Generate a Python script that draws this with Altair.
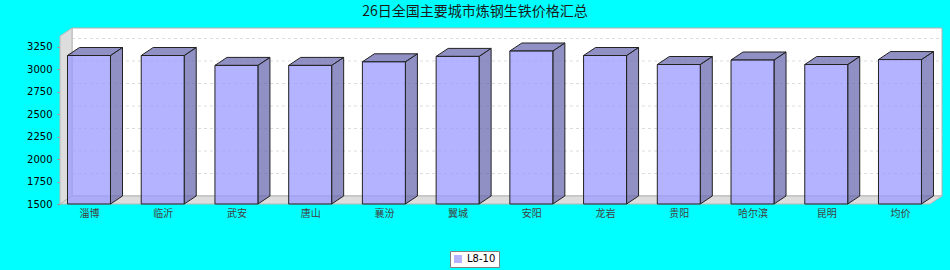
import json
import altair as alt
import pandas as pd

# ---- data ----
cities = ["淄博", "临沂", "武安", "唐山", "襄汾", "翼城", "安阳", "龙岩", "贵阳", "哈尔滨", "昆明", "均价"]
prices = [3150, 3150, 3040, 3040, 3080, 3140, 3200, 3150, 3050, 3100, 3050, 3105]
series_name = "L8-10"
y_ticks = [1500, 1750, 2000, 2250, 2500, 2750, 3000, 3250]
title_text = "26日全国主要城市炼钢生铁价格汇总"

# ---- layout (3D look) ----
X0, X1 = -0.3933, 11.570      # x scale domain (category index units)
Y0, Y1 = 1500.0, 3455.6       # y scale domain
DX, DY = 0.16276, 88.9        # depth offset in data units
HW = 0.2916                   # half bar width

xs = alt.Scale(domain=[X0, X1], nice=False, zero=False)
ys = alt.Scale(domain=[Y0, Y1], nice=False, zero=False)

label_expr = json.dumps(cities, ensure_ascii=False) + "[round(datum.value)]"
xaxis = alt.Axis(values=list(range(len(cities))), labelExpr=label_expr, grid=False,
                 domain=False, ticks=False, labelPadding=4, labelFontSize=10,
                 labelFont="Noto Sans CJK SC", labelColor="#404040",
                 labelOverlap=False, labelFlush=False, title=None)
yaxis = alt.Axis(values=y_ticks, format="d", grid=False, domain=False, tickSize=3,
                 tickColor="#c08080", labelPadding=5, labelFontSize=10,
                 labelFont="DejaVu Sans", labelColor="black", title=None)

front_rows, side_rows, top_rows = [], [], []
for i, (c, v) in enumerate(zip(cities, prices)):
    front_rows.append({"city": c, "x0": i - HW, "x1": i + HW, "y0": Y0, "y1": v, "series": series_name})
    side_rows.append({"city": c, "x": i + HW, "y": v, "y2": Y0})
    side_rows.append({"city": c, "x": i + HW + DX, "y": v + DY, "y2": Y0 + DY})
    top_rows.append({"city": c, "y": v, "x": i - HW, "x2": i + HW})
    top_rows.append({"city": c, "y": v + DY, "x": i - HW + DX, "x2": i + HW + DX})

front_df = pd.DataFrame(front_rows)
side_df = pd.DataFrame(side_rows)
top_df = pd.DataFrame(top_rows)

back_df = pd.DataFrame([{"x0": X0 + DX, "x1": X1, "y0": Y0 + DY, "y1": Y1}])
lwall_df = pd.DataFrame([
    {"x": X0, "y": Y1 - DY, "y2": Y0},
    {"x": X0 + DX, "y": Y1, "y2": Y0 + DY},
])
floor_df = pd.DataFrame([
    {"y": Y0, "x": X0, "x2": X1 - DX},
    {"y": Y0 + DY, "x": X0 + DX, "x2": X1},
])
grid_df = pd.DataFrame([{"x0": X0 + DX, "x1": X1, "y": t + DY} for t in y_ticks if t > Y0])

back = alt.Chart(back_df).mark_rect(fill="white", stroke="#b0b0b0", strokeWidth=1).encode(
    x=alt.X("x0:Q", scale=xs, axis=xaxis), x2="x1:Q",
    y=alt.Y("y0:Q", scale=ys, axis=yaxis), y2="y1:Q",
)
grid = alt.Chart(grid_df).mark_rule(color="#dcdcdc", strokeDash=[3, 3], strokeWidth=1).encode(
    x=alt.X("x0:Q", scale=xs, axis=xaxis), x2="x1:Q",
    y=alt.Y("y:Q", scale=ys, axis=yaxis),
)
lwall = alt.Chart(lwall_df).mark_area(fill="#dddddd", stroke="#b8b8b8", strokeWidth=1).encode(
    x=alt.X("x:Q", scale=xs, axis=xaxis),
    y=alt.Y("y:Q", scale=ys, stack=False, axis=yaxis), y2="y2:Q",
)
floor = alt.Chart(floor_df).mark_area(orient="horizontal", fill="#dddddd", stroke="#b8b8b8", strokeWidth=1).encode(
    y=alt.Y("y:Q", scale=ys, axis=yaxis),
    x=alt.X("x:Q", scale=xs, stack=False, axis=xaxis), x2="x2:Q",
)
side = alt.Chart(side_df).mark_area(fill="#6B6BB2", fillOpacity=0.75, stroke="#222222", strokeWidth=1).encode(
    x=alt.X("x:Q", scale=xs, axis=xaxis),
    y=alt.Y("y:Q", scale=ys, stack=False, axis=yaxis), y2="y2:Q",
    detail="city:N",
)
top = alt.Chart(top_df).mark_area(orient="horizontal", fill="#6B6BB2", fillOpacity=0.75, stroke="#222222", strokeWidth=1).encode(
    y=alt.Y("y:Q", scale=ys, axis=yaxis),
    x=alt.X("x:Q", scale=xs, stack=False, axis=xaxis), x2="x2:Q",
    detail="city:N",
)
front = alt.Chart(front_df).mark_rect(fillOpacity=0.75, stroke="#222222", strokeWidth=1).encode(
    x=alt.X("x0:Q", scale=xs, axis=xaxis), x2="x1:Q",
    y=alt.Y("y0:Q", scale=ys, axis=yaxis), y2="y1:Q",
    color=alt.Color("series:N", scale=alt.Scale(domain=[series_name], range=["#9999FF"]),
                    legend=alt.Legend(orient="none", legendX=390, legendY=223, title=None,
                                      fillColor="white", strokeColor="#808080", padding=3,
                                      symbolType="square", symbolSize=64, symbolOpacity=0.75,
                                      symbolStrokeWidth=0, labelFont="DejaVu Sans",
                                      labelFontSize=10, labelColor="black")),
)

chart = alt.layer(back, grid, lwall, floor, side, top, front).properties(
    width=882, height=176,
    background="#00FFFF",
    autosize=alt.AutoSizeParams(type="none"),
    padding={"left": 60, "top": 28, "right": 8, "bottom": 66},
    title=alt.TitleParams(title_text, font="Noto Sans CJK SC", fontSize=14, fontWeight="normal",
                          color="#1a1a1a", anchor="middle", frame="group", dx=-26, offset=7),
).configure_view(stroke=None)

chart.save("out.html", embed_options={"renderer": "svg", "actions": False})
